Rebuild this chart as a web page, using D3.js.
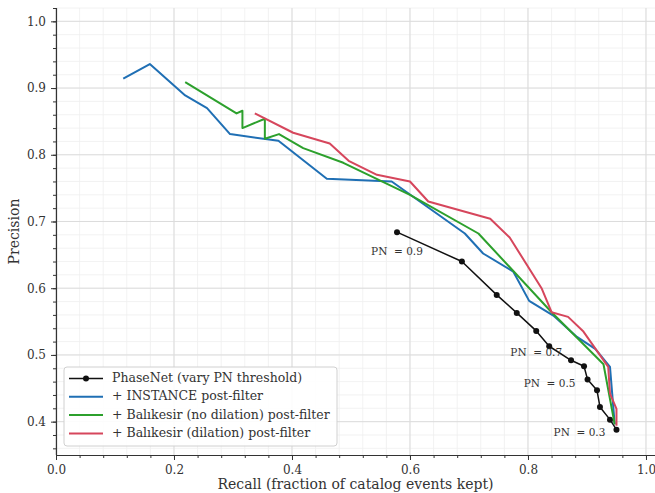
<!DOCTYPE html>
<html>
<head>
<meta charset="utf-8">
<script src="https://cdn.jsdelivr.net/npm/d3@7"></script>
<style>
  body { margin: 0; background: #fff; }
  svg text { font-family: "DejaVu Serif", serif; fill: #333; }
</style>
</head>
<body>
<div id="chart"></div>
<script>
// Data
const pnThresholds = [0.90, 0.85, 0.80, 0.75, 0.70, 0.65, 0.60, 0.55, 0.50, 0.45, 0.40, 0.35, 0.30];
const pnRecall     = [0.578, 0.688, 0.747, 0.781, 0.814, 0.836, 0.873, 0.895, 0.901, 0.917, 0.922, 0.939, 0.950];
const pnPrecision  = [0.684, 0.640, 0.590, 0.563, 0.536, 0.513, 0.492, 0.483, 0.463, 0.447, 0.422, 0.403, 0.388];

const instRecall    = [0.114, 0.159, 0.219, 0.256, 0.295, 0.377, 0.459, 0.569, 0.693, 0.724, 0.775, 0.802, 0.843, 0.883, 0.914, 0.939, 0.947];
const instPrecision = [0.914, 0.936, 0.889, 0.870, 0.831, 0.821, 0.764, 0.760, 0.682, 0.652, 0.625, 0.581, 0.559, 0.527, 0.509, 0.482, 0.396];

const balNoDilRecall    = [0.219, 0.306, 0.316, 0.316, 0.354, 0.354, 0.378, 0.419, 0.487, 0.600, 0.716, 0.840, 0.928, 0.947];
const balNoDilPrecision = [0.909, 0.862, 0.866, 0.840, 0.854, 0.824, 0.831, 0.810, 0.788, 0.740, 0.682, 0.564, 0.486, 0.396];

const balDilRecall    = [0.337, 0.402, 0.464, 0.496, 0.544, 0.600, 0.631, 0.736, 0.769, 0.823, 0.840, 0.868, 0.894, 0.936, 0.939, 0.950, 0.950];
const balDilPrecision = [0.862, 0.833, 0.817, 0.791, 0.770, 0.760, 0.730, 0.704, 0.676, 0.600, 0.564, 0.557, 0.535, 0.482, 0.442, 0.419, 0.394];

const labelledThresholds = [0.9, 0.7, 0.5, 0.3];

const xTicks = [0, 0.2, 0.4, 0.6, 0.8, 1.0];
const yTicks = [0.4, 0.5, 0.6, 0.7, 0.8, 0.9, 1.0];

// Dimensions
const width = 655;
const height = 493;
const mLeft = 56, mRight = 655, mTop = 8, mBottom = 455;

const x = d3.scaleLinear().domain([0, 1.0153]).range([mLeft, mRight]);
const y = d3.scaleLinear().domain([0.35, 1.02]).range([mBottom, mTop]);

const svg = d3.select("#chart")
  .append("svg")
    .attr("width", width)
    .attr("height", height);

// Grid
const xMinor = d3.range(0, 1.0153, 0.04);
const yMinor = d3.range(0.36, 1.021, 0.02);
const grid = svg.append("g");
grid.selectAll(".xminor")
  .data(xMinor)
  .join("line")
    .attr("x1", d => x(d)).attr("x2", d => x(d))
    .attr("y1", mTop).attr("y2", mBottom)
    .attr("stroke", "#efefef").attr("stroke-width", 0.8);
grid.selectAll(".yminor")
  .data(yMinor)
  .join("line")
    .attr("y1", d => y(d)).attr("y2", d => y(d))
    .attr("x1", mLeft).attr("x2", mRight)
    .attr("stroke", "#efefef").attr("stroke-width", 0.8);
grid.selectAll(".xmajor")
  .data(xTicks)
  .join("line")
    .attr("x1", d => x(d)).attr("x2", d => x(d))
    .attr("y1", mTop).attr("y2", mBottom)
    .attr("stroke", "#dcdcdc").attr("stroke-width", 1);
grid.selectAll(".ymajor")
  .data(yTicks)
  .join("line")
    .attr("y1", d => y(d)).attr("y2", d => y(d))
    .attr("x1", mLeft).attr("x2", mRight)
    .attr("stroke", "#dcdcdc").attr("stroke-width", 1);

// Axes
const xAxis = svg.append("g")
  .attr("transform", `translate(0,${mBottom})`)
  .call(d3.axisBottom(x).tickValues(xTicks).tickFormat(d3.format(".1f")).tickSize(5).tickPadding(5));
const xAxisMinor = svg.append("g")
  .attr("transform", `translate(0,${mBottom})`)
  .call(d3.axisBottom(x).tickValues(xMinor).tickFormat("").tickSize(3));
const yAxis = svg.append("g")
  .attr("transform", `translate(${mLeft},0)`)
  .call(d3.axisLeft(y).tickValues(yTicks).tickFormat(d3.format(".1f")).tickSize(5).tickPadding(5));
const yAxisMinor = svg.append("g")
  .attr("transform", `translate(${mLeft},0)`)
  .call(d3.axisLeft(y).tickValues(yMinor).tickFormat("").tickSize(3));

[xAxis, xAxisMinor, yAxis, yAxisMinor].forEach(a => {
  a.select(".domain").attr("stroke", "#333").attr("stroke-width", 1.2);
  a.selectAll(".tick line").attr("stroke", "#333");
  a.selectAll(".tick text").attr("font-size", 12).attr("fill", "#333")
    .style("font-family", "DejaVu Serif, serif");
});
xAxis.select(".domain").attr("d", `M${mLeft},0.5H${mRight}`);
yAxis.select(".domain").attr("d", `M0.5,${mTop}V${mBottom}`);
xAxisMinor.select(".domain").remove();
yAxisMinor.select(".domain").remove();

// Axis labels
svg.append("text")
  .attr("x", (mLeft + mRight) / 2)
  .attr("y", 489)
  .attr("text-anchor", "middle")
  .attr("font-size", 14)
  .text("Recall (fraction of catalog events kept)");
svg.append("text")
  .attr("transform", `translate(19,${(mTop + mBottom) / 2}) rotate(-90)`)
  .attr("text-anchor", "middle")
  .attr("font-size", 14)
  .text("Precision");

// Lines
const lineGen = d3.line().x(d => x(d[0])).y(d => y(d[1]));
const zip = (a, b) => a.map((v, i) => [v, b[i]]);

const series = [
  { label: "PhaseNet (vary PN threshold)", color: "#111", width: 1.5, pts: zip(pnRecall, pnPrecision), marker: true },
  { label: "+ INSTANCE post-filter", color: "#1f6fb4", width: 2, pts: zip(instRecall, instPrecision) },
  { label: "+ Bal\u0131kesir (no dilation) post-filter", color: "#2ca02c", width: 2, pts: zip(balNoDilRecall, balNoDilPrecision) },
  { label: "+ Bal\u0131kesir (dilation) post-filter", color: "#d6465c", width: 2, pts: zip(balDilRecall, balDilPrecision) }
];

const plot = svg.append("g");
series.forEach(s => {
  plot.append("path")
    .datum(s.pts)
    .attr("d", lineGen)
    .attr("fill", "none")
    .attr("stroke", s.color)
    .attr("stroke-width", s.width)
    .attr("stroke-linejoin", "round");
  if (s.marker) {
    plot.selectAll(null)
      .data(s.pts)
      .join("circle")
        .attr("cx", d => x(d[0]))
        .attr("cy", d => y(d[1]))
        .attr("r", 3)
        .attr("fill", s.color);
  }
});

// Threshold labels (offsets in px from the point)
const labelOffsets = { 0.9: [0, 20], 0.7: [0, 22], 0.5: [-38, 4], 0.3: [-37, 3] };
svg.append("g")
  .selectAll("text")
  .data(labelledThresholds)
  .join("text")
    .attr("x", t => x(pnRecall[pnThresholds.indexOf(t)]) + labelOffsets[t][0])
    .attr("y", t => y(pnPrecision[pnThresholds.indexOf(t)]) + labelOffsets[t][1])
    .attr("text-anchor", "middle")
    .attr("dominant-baseline", "middle")
    .attr("font-size", 10.5)
    .attr("fill", "#222")
    .style("white-space", "pre")
    .text(t => `PN  = ${d3.format(".1f")(t)}`);

// Legend
const legend = svg.append("g").attr("transform", "translate(64,367)");
legend.append("rect")
  .attr("width", 273)
  .attr("height", 79)
  .attr("rx", 3)
  .attr("fill", "white")
  .attr("fill-opacity", 0.9)
  .attr("stroke", "#d0d0d0");
const rows = legend.selectAll(".row")
  .data(series)
  .join("g")
    .attr("transform", (d, i) => `translate(0,${11.5 + i * 18.3})`);
rows.append("line")
  .attr("x1", 5).attr("x2", 39)
  .attr("stroke", d => d.color)
  .attr("stroke-width", d => d.width);
rows.filter(d => d.marker)
  .append("circle")
    .attr("cx", 22).attr("r", 3)
    .attr("fill", d => d.color);
rows.append("text")
  .attr("x", 48)
  .attr("dominant-baseline", "middle")
  .attr("font-size", 12.5)
  .text(d => d.label);
</script>
</body>
</html>
